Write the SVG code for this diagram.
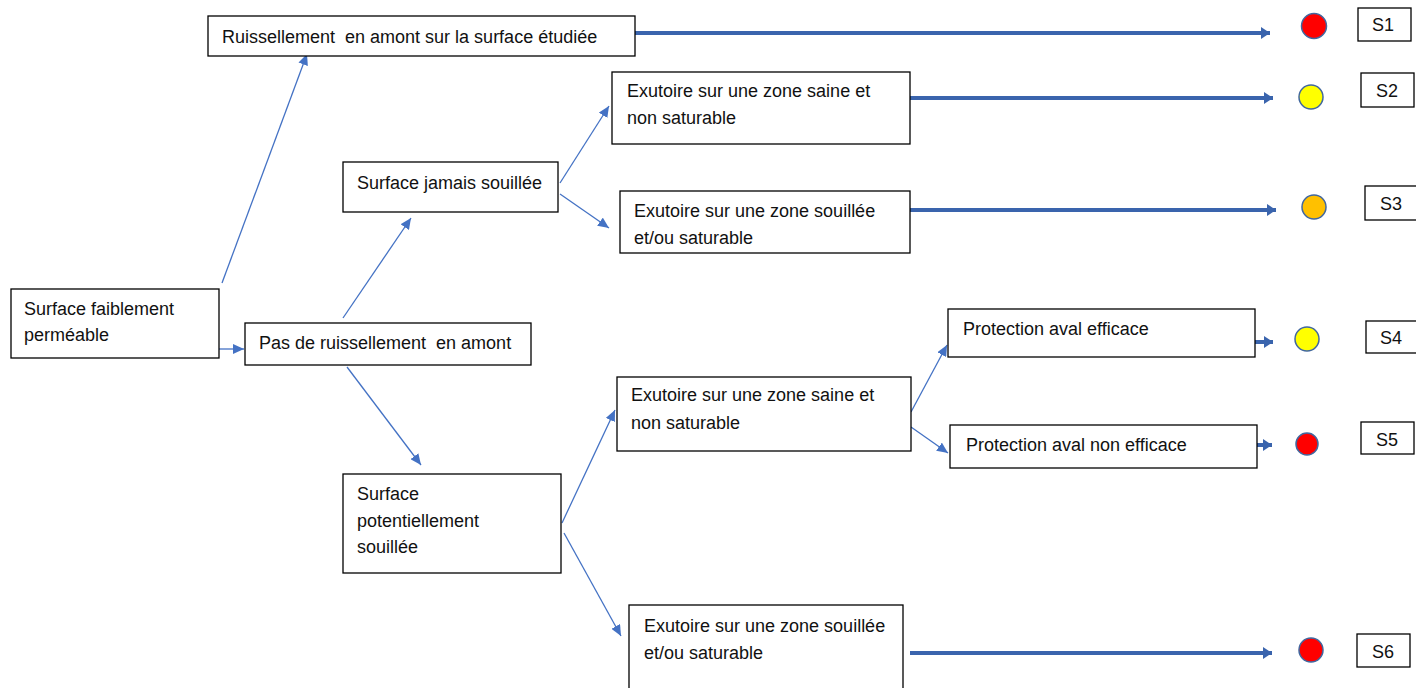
<svg xmlns="http://www.w3.org/2000/svg" width="1416" height="688" viewBox="0 0 1416 688">
<defs>
<marker id="thin" markerUnits="userSpaceOnUse" markerWidth="12" markerHeight="10" refX="11" refY="5" orient="auto"><path d="M0,0 L11,5 L0,10 z" fill="#4472C4"/></marker>
<marker id="thick" markerUnits="userSpaceOnUse" markerWidth="10" markerHeight="12" refX="9" refY="6" orient="auto"><path d="M0,0 L9,6 L0,12 z" fill="#3A64AD"/></marker>
</defs>
<style>
.box{fill:#fff;stroke:#000;stroke-width:1.3}
.t{font-family:"Liberation Sans",Arial,sans-serif;font-size:18px;fill:#111;white-space:pre}
.thin{stroke:#4472C4;stroke-width:1.3;fill:none;marker-end:url(#thin)}
.thick{stroke:#3A64AD;stroke-width:4;fill:none;marker-end:url(#thick)}
.dot{stroke:#41679F;stroke-width:1.5}
</style>
<rect width="1416" height="688" fill="#fff"/>
<g id="connectors">
<line class="thin" x1="222" y1="283" x2="307" y2="54"/>
<line class="thin" x1="219" y1="349" x2="244" y2="349"/>
<line class="thin" x1="343" y1="318" x2="411" y2="218"/>
<line class="thin" x1="347" y1="367" x2="421" y2="465"/>
<line class="thin" x1="560" y1="183" x2="609" y2="106"/>
<line class="thin" x1="560" y1="194" x2="609" y2="228"/>
<line class="thin" x1="562" y1="523" x2="615" y2="410"/>
<line class="thin" x1="564" y1="533" x2="621" y2="636"/>
<line class="thin" x1="911" y1="412" x2="947" y2="345"/>
<line class="thin" x1="911" y1="427" x2="948" y2="453"/>
<line class="thick" x1="635" y1="33" x2="1270" y2="33"/>
<line class="thick" x1="910" y1="98" x2="1273" y2="98"/>
<line class="thick" x1="910" y1="210" x2="1276" y2="210"/>
<line class="thick" x1="1255" y1="342" x2="1273" y2="342"/>
<line class="thick" x1="1257" y1="445" x2="1272" y2="445"/>
<line class="thick" x1="910" y1="653" x2="1272" y2="653"/>
</g>
<g id="n-ruissellement"><rect class="box" x="208" y="16" width="427" height="40"/><text class="t" x="222" y="43" xml:space="preserve">Ruissellement  en amont sur la surface étudiée</text></g>
<g id="n-faiblement"><rect class="box" x="11" y="289" width="208" height="69"/><text class="t" x="24" y="315">Surface faiblement</text><text class="t" x="24" y="341">perméable</text></g>
<g id="n-pas"><rect class="box" x="245" y="323" width="286" height="42"/><text class="t" x="259" y="349" xml:space="preserve">Pas de ruissellement  en amont</text></g>
<g id="n-jamais"><rect class="box" x="343" y="162" width="215" height="50"/><text class="t" x="357" y="189">Surface jamais souillée</text></g>
<g id="n-saine1"><rect class="box" x="612" y="72" width="298" height="72"/><text class="t" x="627" y="97">Exutoire sur une zone saine et</text><text class="t" x="627" y="124">non saturable</text></g>
<g id="n-souillee1"><rect class="box" x="620" y="191" width="290" height="62"/><text class="t" x="634" y="217">Exutoire sur une zone souillée</text><text class="t" x="634" y="244">et/ou saturable</text></g>
<g id="n-potentiellement"><rect class="box" x="343" y="474" width="218" height="99"/><text class="t" x="357" y="500">Surface</text><text class="t" x="357" y="527">potentiellement</text><text class="t" x="357" y="553">souillée</text></g>
<g id="n-saine2"><rect class="box" x="617" y="377" width="294" height="74"/><text class="t" x="631" y="401">Exutoire sur une zone saine et</text><text class="t" x="631" y="429">non saturable</text></g>
<g id="n-efficace"><rect class="box" x="948" y="309" width="307" height="48"/><text class="t" x="963" y="335">Protection aval efficace</text></g>
<g id="n-nonefficace"><rect class="box" x="950" y="425" width="307" height="43"/><text class="t" x="966" y="451">Protection aval non efficace</text></g>
<g id="n-souillee2"><rect class="box" x="629" y="605" width="274" height="90"/><text class="t" x="644" y="632">Exutoire sur une zone souillée</text><text class="t" x="644" y="659">et/ou saturable</text></g>
<g id="s1"><circle class="dot" cx="1314" cy="26" r="12.5" fill="#FF0000"/><rect class="box" x="1358" y="8" width="53" height="33"/><text class="t" x="1372" y="31">S1</text></g>
<g id="s2"><circle class="dot" cx="1311" cy="97" r="12" fill="#FFFF00"/><rect class="box" x="1361" y="73" width="53" height="34"/><text class="t" x="1376" y="97">S2</text></g>
<g id="s3"><circle class="dot" cx="1314" cy="207" r="12" fill="#FFC000"/><rect class="box" x="1365" y="186" width="53" height="34"/><text class="t" x="1380" y="210">S3</text></g>
<g id="s4"><circle class="dot" cx="1307" cy="339" r="12" fill="#FFFF00"/><rect class="box" x="1366" y="321" width="52" height="32"/><text class="t" x="1380" y="344">S4</text></g>
<g id="s5"><circle class="dot" cx="1307" cy="444" r="11" fill="#FF0000"/><rect class="box" x="1361" y="422" width="53" height="32"/><text class="t" x="1376" y="446">S5</text></g>
<g id="s6"><circle class="dot" cx="1311" cy="650" r="12" fill="#FF0000"/><rect class="box" x="1357" y="634" width="53" height="33"/><text class="t" x="1372" y="658">S6</text></g>
</svg>
